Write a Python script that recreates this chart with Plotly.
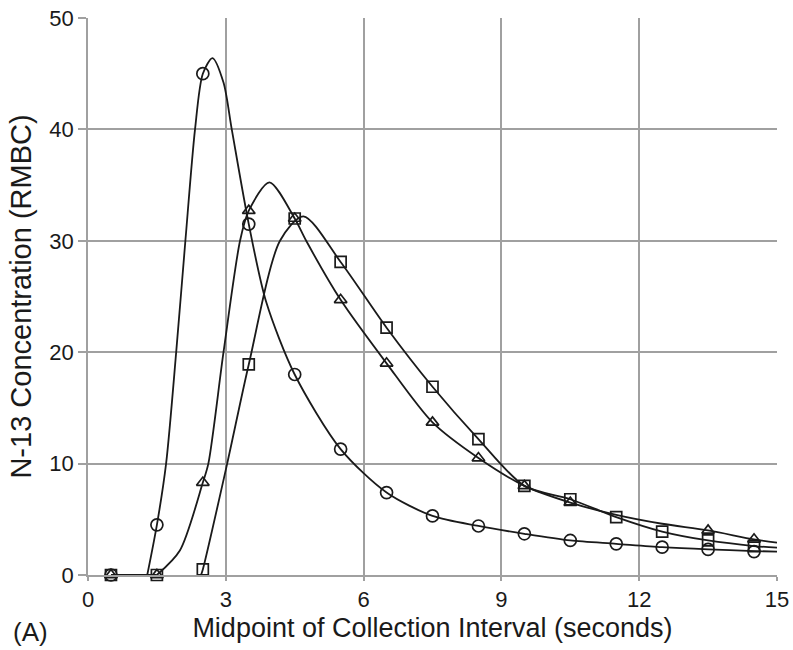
import plotly.graph_objects as go

# Measured points: midpoints of collection intervals (seconds)
x_mid = [0.5, 1.5, 2.5, 3.5, 4.5, 5.5, 6.5, 7.5, 8.5, 9.5, 10.5, 11.5, 12.5, 13.5, 14.5]
circle_y = [0, 4.5, 45, 31.5, 18, 11.3, 7.4, 5.3, 4.4, 3.7, 3.1, 2.8, 2.5, 2.3, 2.1]
square_y = [0, 0, 0.5, 18.9, 32, 28.1, 22.2, 16.9, 12.2, 8.0, 6.8, 5.2, 3.9, 3.1, 2.6]
triangle_x = [0.5, 1.5, 2.5, 3.5, 4.5, 5.5, 6.5, 7.5, 8.5, 9.5, 10.5, 13.5, 14.5]
triangle_y = [0, 0, 8.3, 32.7, 32, 24.7, 19.0, 13.7, 10.5, 8.0, 6.5, 4.0, 3.2]

# Flat zero baseline shared by the curves before they rise
baseline_x = [0.5, 1.5]
baseline_y = [0, 0]

# Smooth fitted curves
circle_curve_x = [1.29, 1.5, 1.7, 1.92, 2.12, 2.33, 2.5, 2.71, 2.95, 3.13, 3.5, 3.88,
                  4.5, 5.5, 6.5, 7.5, 8.5, 9.5, 10.5, 11.5, 12.5, 13.5, 14.5, 15]
circle_curve_y = [0, 4.5, 10, 20, 30, 40, 45, 46.4, 44.2, 40, 31.5, 24.5,
                  18, 11.3, 7.4, 5.3, 4.4, 3.7, 3.1, 2.8, 2.5, 2.3, 2.15, 2.1]

triangle_curve_x = [1.5, 2.0, 2.5, 2.62, 2.95, 3.31, 3.5, 3.95, 4.5, 4.75, 5.5, 6.5,
                    7.5, 8.5, 9.5, 10.5, 11.5, 12.5, 13.5, 14.5, 15]
triangle_curve_y = [0, 2.2, 8.3, 10, 20, 30, 32.7, 35.25, 32, 30, 24.7, 19.0,
                    13.7, 10.5, 8.0, 6.5, 5.4, 4.6, 4.0, 3.2, 2.9]

square_curve_x = [2.46, 2.5, 3.03, 3.5, 4.18, 4.69, 5.5, 6.5, 7.5, 8.5, 9.5, 10.5,
                  11.5, 12.5, 13.5, 14.5, 15]
square_curve_y = [0, 0.5, 10, 18.9, 30, 32.2, 28.1, 22.2, 16.9, 12.2, 8.0, 6.8,
                  5.2, 3.9, 3.1, 2.6, 2.45]

x_ticks = [0, 3, 6, 9, 12, 15]
y_ticks = [0, 10, 20, 30, 40, 50]

ink = "#1a1a1a"
grid = "#a0a0a0"
font_family = "Liberation Sans, Arial, sans-serif"

fig = go.Figure()

fig.add_trace(go.Scatter(
    x=baseline_x, y=baseline_y, mode="lines",
    line=dict(color=ink, width=1.8), showlegend=False, hoverinfo="skip",
))

curves = [
    (circle_curve_x, circle_curve_y),
    (triangle_curve_x, triangle_curve_y),
    (square_curve_x, square_curve_y),
]
for cx, cy in curves:
    fig.add_trace(go.Scatter(
        x=cx, y=cy, mode="lines",
        line=dict(color=ink, width=1.8, shape="spline", smoothing=0.8),
        showlegend=False, hoverinfo="skip",
    ))

markers = [
    (x_mid, circle_y, "circle-open", 12),
    (triangle_x, triangle_y, "triangle-up-open", 11),
    (x_mid, square_y, "square-open", 11),
]
for xs, ys, sym, size in markers:
    fig.add_trace(go.Scatter(
        x=xs, y=ys, mode="markers",
        marker=dict(symbol=sym, size=size, color=ink, line=dict(width=1.7, color=ink)),
        showlegend=False, cliponaxis=False,
    ))

fig.update_layout(
    width=793, height=650,
    margin=dict(l=88, r=16, t=18, b=75),
    paper_bgcolor="white", plot_bgcolor="white",
    font=dict(family=font_family, size=22, color=ink),
    xaxis=dict(
        range=[0, 15], tickvals=x_ticks, ticktext=[str(v) for v in x_ticks],
        showgrid=True, gridcolor=grid, gridwidth=1.6,
        showline=True, linecolor=grid, linewidth=1.6,
        ticks="outside", ticklen=4, tickcolor=grid, tickwidth=1.5,
        zeroline=False, automargin=False,
        title=dict(text="Midpoint of Collection Interval (seconds)", standoff=7,
                   font=dict(size=27)),
        tickfont=dict(size=22),
    ),
    yaxis=dict(
        range=[0, 50], tickvals=y_ticks, ticktext=[str(v) for v in y_ticks],
        showgrid=True, gridcolor=grid, gridwidth=1.6,
        showline=True, linecolor=grid, linewidth=1.6,
        ticks="outside", ticklen=8, tickcolor=grid, tickwidth=1.5,
        zeroline=False, automargin=False,
        title=dict(text="N-13 Concentration (RMBC)", standoff=9, font=dict(size=29)),
        tickfont=dict(size=22),
    ),
    annotations=[dict(
        text="(A)", xref="paper", yref="paper", x=-0.112, y=-0.102, xanchor="left",
        yanchor="middle", showarrow=False, font=dict(size=26, color=ink),
    )],
)

fig.write_html("out.html", config={"displayModeBar": False},
               post_script="document.body.style.margin='0px';")
